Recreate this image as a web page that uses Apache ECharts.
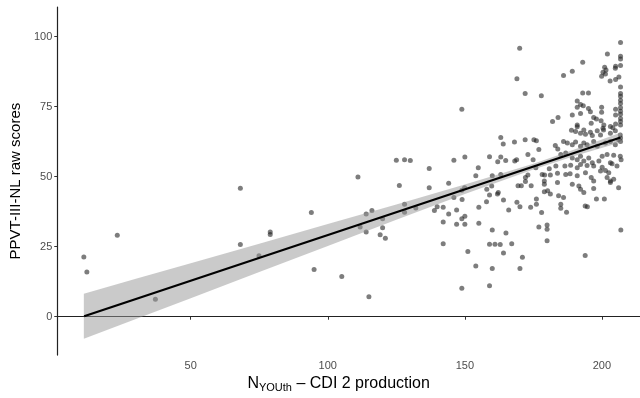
<!DOCTYPE html>
<html>
<head>
<meta charset="utf-8">
<script src="https://cdn.jsdelivr.net/npm/echarts@6/dist/echarts.min.js"></script>
<style>
html,body{margin:0;padding:0;background:#fff;}
#chart{width:640px;height:398px;}
</style>
</head>
<body>
<div id="chart"></div>
<script>
// Observed data: CDI 2 production (x) vs PPVT-III-NL raw scores (y)
const cdiX = [
11.0,12.1,23.2,37.1,68.1,68.1,74.9,79.0,79.0,94.0,95.0,105.1,115.0,111.8,114.0,116.1,114.0,120.0,120.0,119.1,
121.0,128.0,128.0,132.1,138.9,139.9,111.0,125.0,128.0,130.1,137.0,126.1,137.0,146.0,144.1,142.1,146.0,147.0,144.1,142.1,
147.0,148.9,142.1,148.9,149.0,150.0,150.0,151.1,154.0,155.1,155.1,157.9,160.0,159.0,161.0,162.9,160.0,159.0,164.1,164.1,
165.0,166.0,167.1,169.0,170.1,171.0,170.1,174.0,176.1,176.1,178.0,177.0,180.0,180.0,180.0,185.0,185.0,187.1,186.0,193.9,
194.7,193.9,198.0,200.9,206.9,159.0,161.9,179.0,180.2,181.2,184.2,148.9,149.9,148.9,170.0,169.0,172.0,177.9,182.0,184.0,
163.1,164.0,168.1,172.0,175.2,176.1,177.0,173.0,174.9,150.0,159.0,163.1,162.0,164.9,168.2,168.9,154.9,154.0,160.0,163.1,
173.0,175.9,178.2,179.1,180.8,181.2,183.2,183.8,183.8,172.1,172.1,169.4,170.6,174.2,179.0,179.0,158.0,159.8,162.2,
206.8,202.0,206.8,206.8,206.8,205.0,204.9,201.0,201.5,193.0,189.2,186.0,200.4,199.9,201.3,206.2,205.0,203.0,206.8,206.8,
193.0,195.1,206.8,206.8,206.8,206.8,206.8,206.8,206.8,206.8,206.8,191.0,192.2,193.2,191.0,195.1,195.8,197.0,198.0,199.9,
199.9,205.0,205.0,205.0,199.7,200.7,200.4,189.2,192.2,191.0,191.0,196.1,203.1,204.0,188.9,206.8,206.8,183.0,183.9,
190.4,192.2,193.4,194.0,195.8,196.5,198.3,199.5,200.6,203.1,204.9,206.7,
186.0,187.4,189.2,190.4,192.2,193.4,194.6,197.0,198.3,201.3,203.1,204.9,206.1,
185.0,186.8,189.2,191.0,192.2,193.4,195.2,196.5,198.9,200.1,201.9,204.3,206.7,
186.5,188.6,191.0,192.2,194.6,197.0,200.1,203.1,203.7,205.5,207.0,
186.8,188.4,191.0,194.0,196.1,197.0,199.5,201.3,202.5,201.9,203.1,204.3,203.1,
189.2,191.6,192.2,193.4,197.0,206.1
];
const ppvtY = [
21.3,16.0,29.1,6.2,45.9,25.8,21.8,30.3,29.4,37.2,16.9,14.4,7.1,32.0,36.7,37.9,30.3,35.0,31.8,29.3,
28.0,40.2,37.3,38.8,37.9,39.3,49.9,55.9,56.1,55.8,52.9,46.9,46.1,55.9,47.7,39.1,42.6,38.1,36.7,33.8,
33.0,35.0,26.1,10.2,41.9,35.9,33.0,23.3,18.1,39.1,33.4,41.1,31.0,25.9,25.9,25.8,17.2,11.1,41.7,22.8,
29.9,38.1,26.1,40.9,39.3,21.2,17.2,39.1,40.2,42.0,37.2,32.0,32.8,31.2,27.1,40.2,38.7,37.3,42.6,39.5,
39.3,21.9,42.0,42.0,31.0,43.5,43.8,44.6,45.0,43.8,43.2,45.2,46.1,74.1,95.9,85.0,79.7,78.9,69.7,71.1,
64.0,61.7,62.4,63.2,63.2,62.8,59.7,57.9,56.1,57.0,57.1,57.0,55.3,55.8,55.6,56.1,53.2,50.3,50.3,50.8,
50.6,53.2,50.8,50.6,52.8,50.6,53.8,51.2,47.9,49.7,48.3,46.8,46.8,46.8,48.5,47.3,45.5,46.7,44.4,
97.9,93.8,93.0,92.0,89.7,89.4,88.7,89.1,88.1,90.9,87.7,86.1,87.3,85.9,86.7,85.6,84.7,84.2,82.0,79.7,
79.9,79.9,78.7,77.3,76.1,74.6,73.4,72.3,70.8,69.7,68.5,77.0,75.8,75.3,74.8,74.4,73.2,71.1,70.6,74.8,
73.0,74.1,72.0,68.8,70.0,68.5,67.3,72.0,72.6,68.5,67.8,69.1,67.9,67.5,66.6,63.8,62.6,61.1,59.9,
66.1,65.5,66.7,65.2,65.9,64.7,66.4,64.9,66.7,65.5,66.4,64.9,
62.6,62.0,61.4,62.4,60.9,62.0,61.4,62.6,60.9,62.0,62.6,61.4,63.2,
57.9,58.5,56.7,56.1,57.3,55.6,56.7,55.0,55.6,57.3,57.9,57.7,57.3,
53.8,54.1,53.2,54.4,54.0,53.8,53.4,55.0,54.6,53.8,56.1,
50.8,51.1,50.3,51.4,49.7,48.5,52.0,52.2,51.4,49.7,48.5,49.1,47.9,
47.3,46.7,45.5,44.4,45.8,46.1
];
// Fitted regression line (end points)
const fitX = [11.1, 206.8];
const fitY = [0.2, 64.0];
// Confidence band
const bandX  = [11, 30, 50, 75, 100, 125, 150, 175, 190, 207];
const bandLo = [-7.9, -0.8, 6.6, 16.0, 25.3, 34.6, 43.8, 52.6, 57.4, 62.3];
const bandHi = [8.2, 13.6, 19.1, 26.1, 33.1, 40.1, 47.2, 54.6, 59.7, 65.8];
// Tick labels
const xTicks = [50, 100, 150, 200];
const yTicks = [0, 25, 50, 75, 100];

const FONT = 'Liberation Sans, Arial, sans-serif';
const chart = echarts.init(document.getElementById('chart'), null, {renderer: 'canvas'});
const scatterData = cdiX.map((x, i) => [x, ppvtY[i]]);
const fitData = fitX.map((x, i) => [x, fitY[i]]);
const bandData = bandX.map((x, i) => [x, bandLo[i], bandHi[i]]);

chart.setOption({
  animation: false,
  backgroundColor: '#ffffff',
  grid: {left: 51, right: 0, top: 7, bottom: 39, containLabel: false},
  xAxis: {
    type: 'value', min: 1.3, max: 213.9,
    name: '{n|N}{s|YOUth}{n| – CDI 2 production}',
    nameLocation: 'middle', nameGap: 16,
    nameTextStyle: {
      padding: [0, 20, 0, 0],
      rich: {
        n: {fontSize: 16, color: '#000', fontFamily: FONT},
        s: {fontSize: 11, color: '#000', fontFamily: FONT, padding: [7, 0, 0, 0]}
      }
    },
    axisLine: {show: true, lineStyle: {color: '#222', width: 1.2}},
    axisTick: {show: true, length: 3, customValues: xTicks, lineStyle: {color: '#333', width: 1}},
    axisLabel: {customValues: xTicks, color: '#4d4d4d', fontSize: 11, margin: 5, fontFamily: FONT},
    splitLine: {show: false}
  },
  yAxis: {
    type: 'value', min: -13.7, max: 110.6,
    name: 'PPVT-III-NL raw scores',
    nameLocation: 'middle', nameGap: 30,
    nameTextStyle: {fontSize: 15, color: '#000', fontFamily: FONT},
    axisLine: {show: true, lineStyle: {color: '#222', width: 1.2}},
    axisTick: {show: true, length: 3, customValues: yTicks, lineStyle: {color: '#333', width: 1}},
    axisLabel: {customValues: yTicks, color: '#4d4d4d', fontSize: 11, margin: 5, fontFamily: FONT},
    splitLine: {show: false}
  },
  series: [
    {
      type: 'scatter', data: scatterData, symbolSize: 5, z: 2,
      itemStyle: {color: 'rgba(30,30,30,0.72)'},
      emphasis: {disabled: true}
    },
    {
      type: 'custom', data: bandData, z: 3,
      encode: {x: 0, y: [1, 2]},
      renderItem: function (params, api) {
        if (params.dataIndex !== 0) return null;
        const pts = [];
        for (let i = 0; i < bandX.length; i++) pts.push(api.coord([bandX[i], bandHi[i]]));
        for (let i = bandX.length - 1; i >= 0; i--) pts.push(api.coord([bandX[i], bandLo[i]]));
        return {type: 'polygon', shape: {points: pts}, style: {fill: 'rgba(150,150,150,0.5)'}};
      }
    },
    {
      type: 'line', data: fitData, showSymbol: false, z: 4,
      lineStyle: {color: '#000', width: 2.2},
      emphasis: {disabled: true}
    }
  ]
});
</script>
</body>
</html>
